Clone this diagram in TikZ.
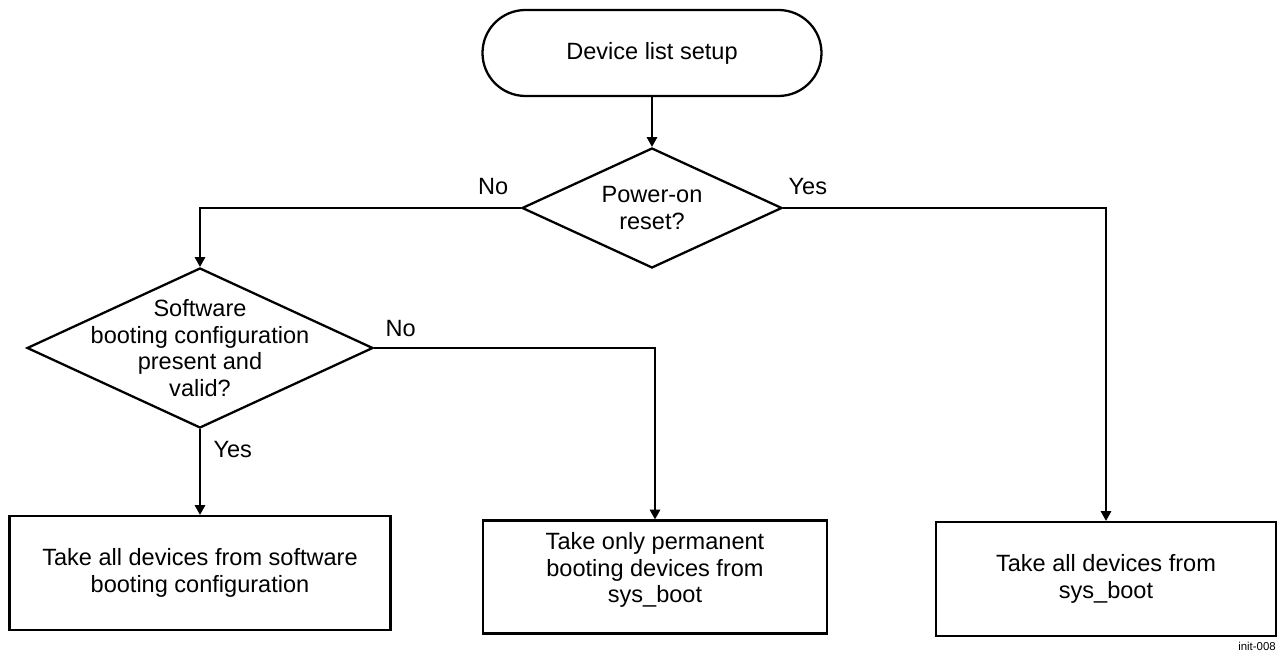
\documentclass[tikz,border=0pt]{standalone}
\usepackage{fontspec}
\setmainfont{Liberation Sans}
\usetikzlibrary{arrows.meta, shapes, positioning}

\begin{document}
\begin{tikzpicture}[>={Triangle[length=5.5pt, width=6pt]}, line width=0.6pt,
  font=\fontsize{13.4}{15.2}\selectfont,
  terminal/.style={draw, line width=1.3pt, rounded corners=0.86cm, minimum width=6.78cm, minimum height=1.72cm},
  decision/.style={draw, diamond, line width=1.3pt, inner sep=0pt},
  process/.style={draw, rectangle, line width=1.3pt, align=center, minimum height=2.28cm},
  answer/.style={inner sep=0pt}]
  \useasboundingbox (0,0) rectangle (25.56,13.06);
  % Start
  \node[terminal] (setup) at (13.04,12.00) {Device list setup};
  % Decisions
  \node[decision, minimum width=5.2cm, minimum height=2.4cm,
    label={[align=center]center:Power-on\\reset?}] (reset) at (13.04,8.90) {};
  \node[decision, minimum width=6.92cm, minimum height=3.2cm,
    label={[align=center]center:Software\\booting configuration\\present and\\valid?}] (swcfg) at (4.00,6.10) {};
  % Actions
  \node[process, minimum width=7.62cm] (swall) at (4.00,1.60) {Take all devices from software\\booting configuration};
  \node[process, minimum width=6.88cm, minimum height=2.26cm, text depth=0.38cm] (permboot) at (13.10,1.52) {Take only permanent\\booting devices from\\sys\_boot};
  \node[process, minimum width=6.8cm] (sysall) at (22.12,1.48) {Take all devices from\\sys\_boot};
  % Connectors
  \draw[->] (setup) -- (reset);
  \draw[->] (reset.west) -| (swcfg.north);
  \draw[->] (reset.east) -| (sysall.north);
  \draw[->] (swcfg.east) -| (permboot.north);
  \draw[->] (swcfg.south) -- (swall.north);
  % Answers
  \node[answer, above left=0.26cm and 0.24cm of reset.west] (resetno) {No};
  \node[answer, above right=0.26cm and 0.1cm of reset.east] (resetyes) {Yes};
  \node[answer, above right=0.22cm and 0.22cm of swcfg.east] (swcfgno) {No};
  \node[answer, below right=0.24cm and 0.26cm of swcfg.south] (swcfgyes) {Yes};
  % Tag
  \node[anchor=south east, inner sep=1pt, font=\fontsize{6.5}{7}\selectfont] (tag) at (25.56,0) {init-008};
\end{tikzpicture}
\end{document}
